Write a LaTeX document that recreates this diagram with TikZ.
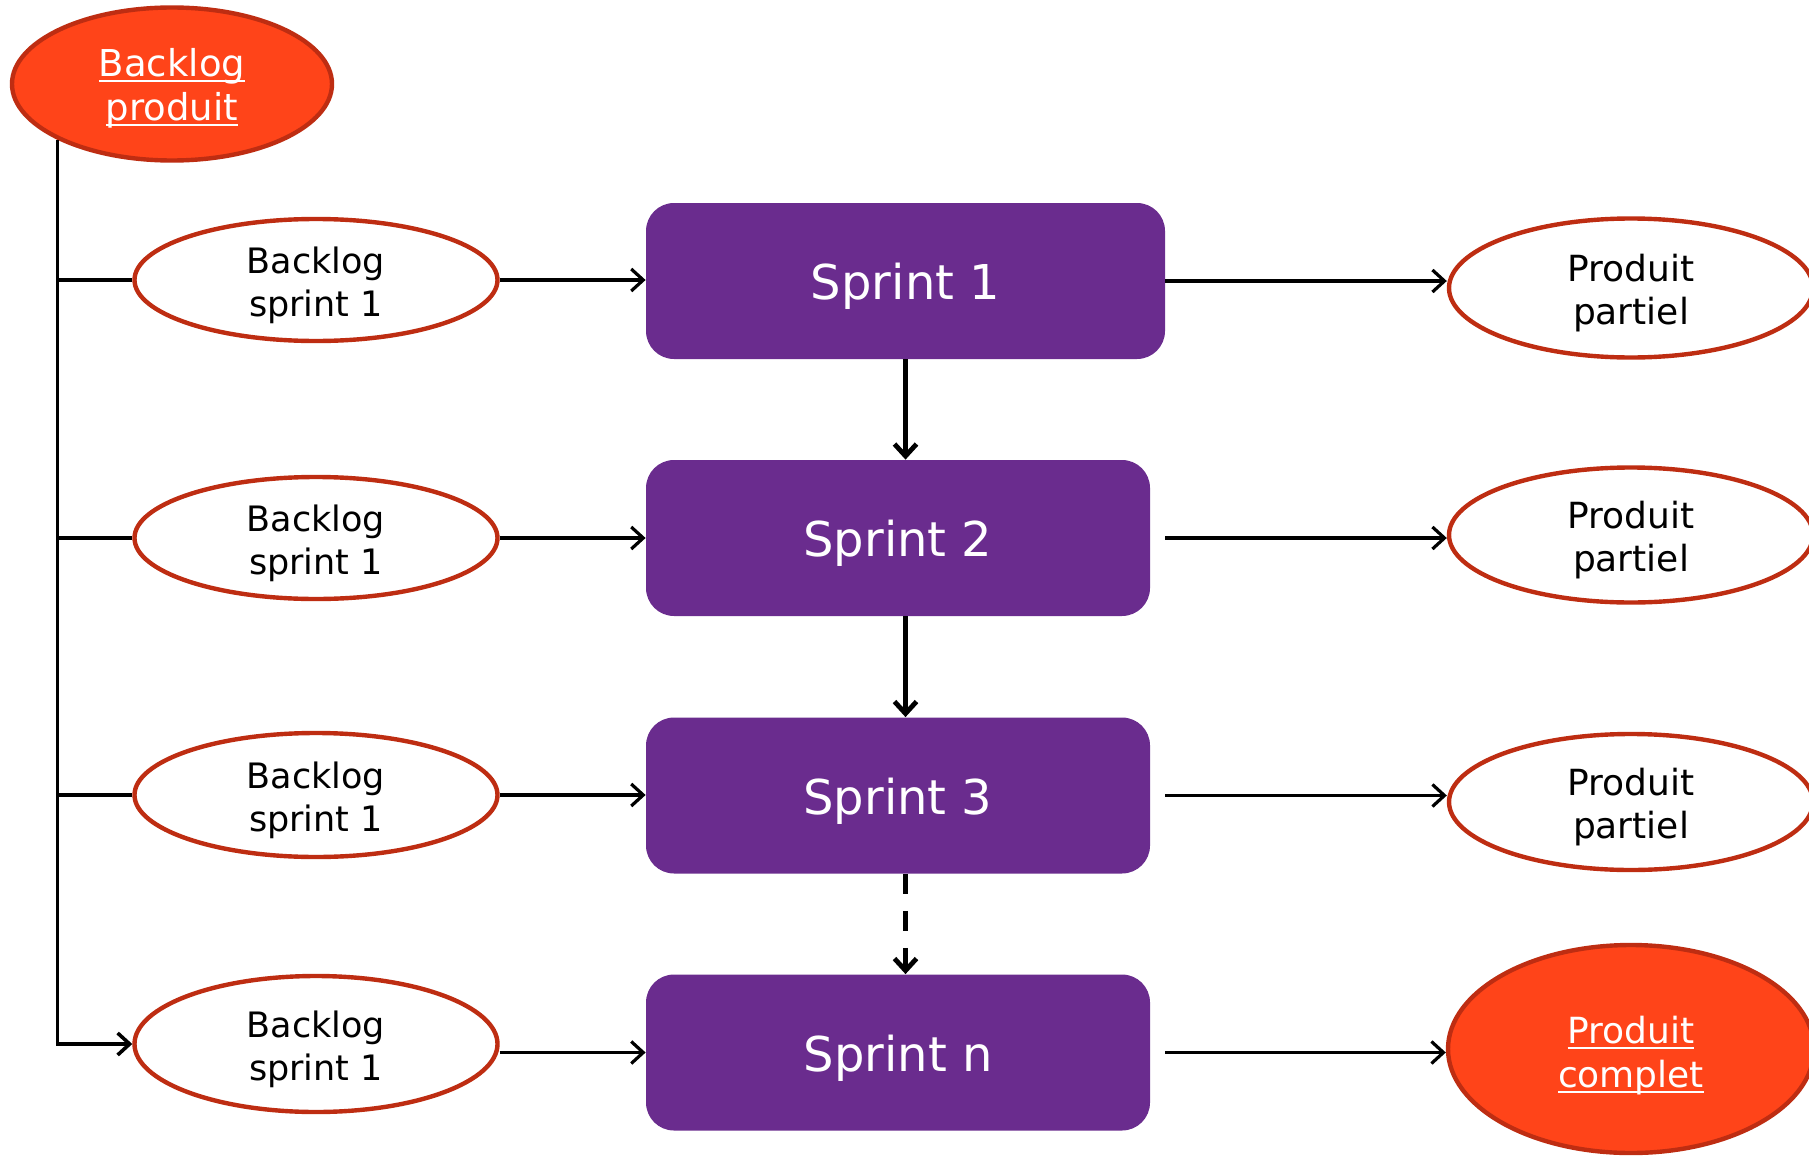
\documentclass[tikz,border=0pt]{standalone}
\usepackage{fontspec}
\setmainfont{DejaVu Sans}
\usetikzlibrary{arrows.meta,shapes.geometric}
\definecolor{rougeo}{RGB}{255,68,25}
\definecolor{bordo}{RGB}{190,45,18}
\definecolor{violetsp}{RGB}{106,44,142}
\newcommand{\ulmot}[1]{\leavevmode\setbox0\hbox{#1}\rlap{\rule[-3.2pt]{\wd0}{1.2pt}}\box0}
\begin{document}
\begin{tikzpicture}[x=0.5pt,y=-0.5pt,
        bulle/.style={ellipse,draw=bordo,line width=2.2pt,inner sep=0pt,align=center,text height=36pt,text depth=0pt},
        blanc/.style={bulle,fill=white,font=\fontsize{17.5}{21.5}\selectfont},
        partiel/.style={bulle,fill=white,minimum width=182pt,font=\fontsize{18}{21.5}\selectfont},
        rouge/.style={bulle,fill=rougeo,text=white},
        sprint/.style={rectangle,rounded corners=14pt,fill=violetsp,text=white,minimum width=252pt,minimum height=78pt,text height=18.8pt,text depth=0pt,font=\fontsize{24}{28}\selectfont},
        fleche/.style={line width=1.6pt,-{Straight Barb[length=6pt,width=11pt]}},
        trait/.style={line width=1.8pt}]
        \useasboundingbox (0,0) rectangle (1809,1156);
        %% Backlog produit
        \node[rouge,minimum width=160pt,minimum height=76.5pt,font=\fontsize{18.5}{22}\selectfont] (bp) at (172,84) {\ulmot{Backlog}\\\ulmot{produit}};
        %% Backlogs des sprints
        \node[blanc,minimum width=181.5pt,minimum height=61pt] (b1) at (316,280) {Backlog\\sprint 1};
        \node[blanc,minimum width=181.5pt,minimum height=61pt] (b2) at (316,538) {Backlog\\sprint 1};
        \node[blanc,minimum width=181.5pt,minimum height=62pt] (b3) at (316,795) {Backlog\\sprint 1};
        \node[blanc,minimum width=181.5pt,minimum height=68pt] (b4) at (316,1044) {Backlog\\sprint 1};
        %% Sprints
        \node[sprint,minimum width=259.5pt] (s1) at (905.5,281) {Sprint 1};
        \node[sprint] (s2) at (898,538) {Sprint 2};
        \node[sprint] (s3) at (898,795.5) {Sprint 3};
        \node[sprint] (sn) at (898,1052.5) {Sprint n};
        %% Produits
        \node[partiel,minimum height=69.5pt] (p1) at (1631,288) {Produit\\partiel};
        \node[partiel,minimum height=67.5pt] (p2) at (1631,535) {Produit\\partiel};
        \node[partiel,minimum height=68pt] (p3) at (1631,802) {Produit\\partiel};
        \node[rouge,minimum width=183pt,minimum height=104pt,text height=38pt,font=\fontsize{18}{22}\selectfont] (pn) at (1631,1049) {\ulmot{Produit}\\\ulmot{complet}};
        %% Tronc
        \draw[fleche,line width=1.8pt] (bp.south west) |- (b4.west);
        \foreach \b in {b1,b2,b3}
            \draw[trait] (\b.west) -- (\b.west -| bp.south west);
        %% Vers les sprints
        \draw[fleche] (b1.east) -- (b1.east -| s1.west);
        \draw[fleche] (b2.east) -- (b2.east -| s2.west);
        \draw[fleche] (b3.east) -- (b3.east -| s3.west);
        \draw[fleche] (b4.east |- sn.west) -- (sn.west);
        %% Vers les produits
        \draw[fleche] (s1.east) -- (s1.east -| p1.west);
        \draw[fleche] (s1.east |- s2.east) -- (s2.east -| p2.west);
        \draw[fleche] (s1.east |- s3.east) -- (s3.east -| p3.west);
        \draw[fleche] (s1.east |- sn.east) -- (sn.east -| pn.west);
        %% Enchainement
        \draw[fleche,line width=2.4pt] (s1.south) -- (s1.south |- s2.north);
        \draw[fleche,line width=2.4pt] (s1.south |- s2.south) -- (s1.south |- s3.north);
        \draw[fleche,line width=2.4pt,dash pattern=on 10pt off 8.5pt] (s1.south |- s3.south) -- (s1.south |- sn.north);
\end{tikzpicture}
\end{document}
